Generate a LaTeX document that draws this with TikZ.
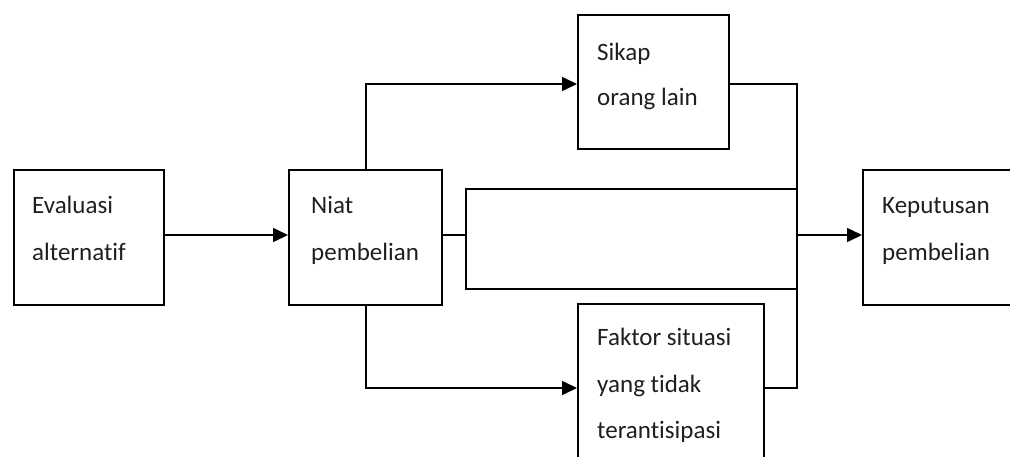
\documentclass[tikz,border=0pt]{standalone}
\usepackage{fontspec}
\setmainfont{Carlito}[Ligatures=NoCommon,RawFeature={-liga;-clig;-dlig}]
\usetikzlibrary{arrows.meta,calc}
\begin{document}
\begin{tikzpicture}[x=1pt,y=-1pt,
  box/.style={draw=black,line width=1.6pt,minimum width=#1,inner sep=0pt,anchor=north west},
  lbl/.style={anchor=base west,inner sep=0pt,font=\fontsize{25}{30}\selectfont,text=black!88},
  conn/.style={draw=black,line width=1.6pt},
  arr/.style={conn,-{Triangle[length=15pt,width=14pt]}}]
\useasboundingbox (0,0) rectangle (1010,456);
\begin{scope}
\clip (0,0) rectangle (1010,456);
% boxes
\node[box=150pt,minimum height=135pt] (eval) at (13,169) {};
\node[box=153pt,minimum height=135pt] (niat) at (288,169) {};
\node[box=151pt,minimum height=134pt] (sikap) at (577,14) {};
\node[box=186pt,minimum height=180pt] (faktor) at (577,303) {};
\node[box=160pt,minimum height=135pt] (kep) at (862,169) {};
% labels
\node[lbl] (evalA) at (32,213) {Evaluasi};
\node[lbl] (evalB) at (32,260) {alternatif};
\node[lbl] (niatA) at (311,213) {Niat};
\node[lbl] (niatB) at (311,260) {pembelian};
\node[lbl] (sikapA) at (597,60) {Sikap};
\node[lbl] (sikapB) at (597,105) {orang lain};
\node[lbl] (faktorA) at (597,345) {Faktor situasi};
\node[lbl] (faktorB) at (597,392) {yang tidak};
\node[lbl] (faktorC) at (597,438) {terantisipasi};
\node[lbl] (kepA) at (882,213) {Keputusan};
\node[lbl] (kepB) at (882,260) {pembelian};
% junction coordinates
\coordinate (nt) at (366,169);
\coordinate (nb) at (366,304);
\coordinate (sp) at (466,235);
\coordinate (spT) at (466,189);
\coordinate (spB) at (466,289);
\coordinate (jT) at (797,189);
\coordinate (jB) at (797,289);
\coordinate (cT) at (797,84);
\coordinate (cB) at (797,388);
\coordinate (cM) at (797,235);
% connectors
\draw[arr] (eval.east |- 0,235) -- (niat.west |- 0,235);
\draw[arr] (nt) -- (nt |- 0,84) -- (sikap.west |- 0,84);
\draw[arr] (nb) -- (nb |- 0,388) -- (faktor.west |- 0,388);
\draw[conn] (niat.east |- sp) -- (sp);
\draw[conn] (jT) -- (spT) -- (spB) -- (jB);
\draw[conn] (sikap.east |- cT) -- (cT) -- (cB) -- (faktor.east |- cB);
\draw[arr] (cM) -- (kep.west |- cM);
\end{scope}
\end{tikzpicture}
\end{document}
